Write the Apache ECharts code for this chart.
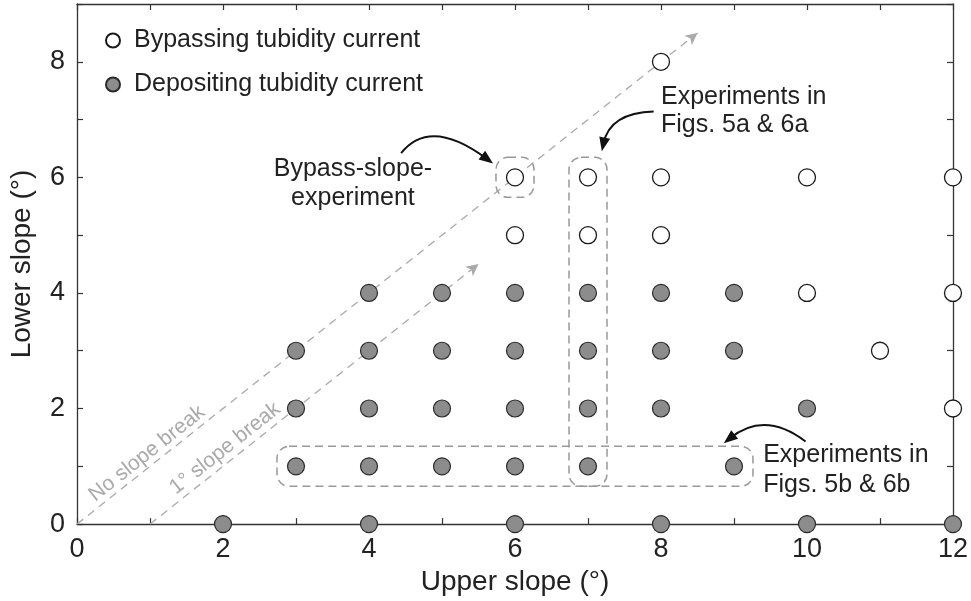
<!DOCTYPE html>
<html>
<head>
<meta charset="utf-8">
<script src="https://cdn.jsdelivr.net/npm/echarts@6/dist/echarts.min.js"></script>
<style>html,body{margin:0;padding:0;background:#fff}#c{width:971px;height:601px}</style>
</head>
<body>
<div id="c"></div>
<script>
// ---- data ----
const seriesNames = ['Bypassing tubidity current', 'Depositing tubidity current'];
const bypassing = [[8,8],[6,6],[7,6],[8,6],[10,6],[12,6],[6,5],[7,5],[8,5],[10,4],[12,4],[11,3],[12,2]];
const depositing = [
  [4,4],[5,4],[6,4],[7,4],[8,4],[9,4],
  [3,3],[4,3],[5,3],[6,3],[7,3],[8,3],[9,3],
  [3,2],[4,2],[5,2],[6,2],[7,2],[8,2],[10,2],
  [3,1],[4,1],[5,1],[6,1],[7,1],[9,1],
  [2,0],[4,0],[6,0],[8,0],[10,0],[12,0]
];
const xTicks = [0,2,4,6,8,10,12];
const yTicks = [0,2,4,6,8];
const xName = 'Upper slope (°)';
const yName = 'Lower slope (°)';
// reference lines (data coords)
const noBreakLine = [[0,0],[8.5,8.5]];
const oneDegLine = [[1,0],[5.5,4.5]];
const lineLabels = [
  {text:'No slope break', at:[0.96,1.22], along:noBreakLine},
  {text:'1° slope break', at:[2.03,1.31], along:oneDegLine}
];
// highlighted experiment groups [xmin,xmax,ymin,ymax]
const boxes = [[6,6,6,6],[7,7,1,6],[3,9,1,1]];
// annotation texts
const notes = [
  {lines:['Bypass-slope-','experiment'], at:[3.78,5.90], align:'center', lh:29},
  {lines:['Experiments in','Figs. 5a & 6a'], at:[8.0,7.14], align:'left', lh:28},
  {lines:['Experiments in','Figs. 5b & 6b'], at:[9.40,0.93], align:'left', lh:30}
];
// curved arrows: tail, control, tip (data coords)
const arrows = [
  [[4.44,6.42],[4.84,7.05],[5.70,6.24]],
  [[7.90,7.14],[7.30,7.12],[7.19,6.45]],
  [[9.98,1.43],[9.42,1.97],[8.86,1.40]]
];

const FONT = '"Liberation Sans", Arial, Helvetica, sans-serif';
const chart = echarts.init(document.getElementById('c'), null, {renderer:'canvas'});

function evenFmt(list){ return v => list.indexOf(v) >= 0 ? String(v) : ''; }
const axisLine = {show:true, onZero:false, lineStyle:{color:'#333', width:1.3}};
const tick = {show:true, inside:true, length:6, lineStyle:{color:'#333', width:1.2}};

const option = {
  animation:false,
  backgroundColor:'#fff',
  textStyle:{fontFamily:FONT},
  grid:{left:77, right:16, top:4, bottom:75, containLabel:false},
  legend:{
    orient:'vertical', left:100, top:23, itemWidth:14, itemHeight:14, itemGap:19,
    data:seriesNames,
    textStyle:{fontSize:25, color:'#222', fontFamily:FONT, padding:[0,0,0,9]}
  },
  xAxis:[{
    type:'value', min:0, max:12, interval:1, position:'bottom',
    axisLine, axisTick:tick, splitLine:{show:false},
    axisLabel:{formatter:evenFmt(xTicks), fontSize:27, color:'#222', margin:12, fontFamily:FONT},
    name:xName, nameLocation:'middle', nameGap:38,
    nameTextStyle:{fontSize:28, color:'#222', fontFamily:FONT}
  },{
    type:'value', min:0, max:12, interval:1, position:'top',
    axisLine, axisTick:tick, axisLabel:{show:false}, splitLine:{show:false}
  }],
  yAxis:[{
    type:'value', min:0, max:9, interval:1, position:'left',
    axisLine, axisTick:tick, splitLine:{show:false},
    axisLabel:{formatter:evenFmt(yTicks), fontSize:27, color:'#222', margin:12, fontFamily:FONT},
    name:yName, nameLocation:'middle', nameGap:41,
    nameTextStyle:{fontSize:28, color:'#222', fontFamily:FONT}
  },{
    type:'value', min:0, max:9, interval:1, position:'right',
    axisLine, axisTick:tick, axisLabel:{show:false}, splitLine:{show:false}
  }],
  series:[{
    name:seriesNames[0], type:'scatter', data:bypassing, symbol:'circle', symbolSize:17, clip:false, z:5,
    itemStyle:{color:'#fff', borderColor:'#1a1a1a', borderWidth:1.3, opacity:1}
  },{
    name:seriesNames[1], type:'scatter', data:depositing, symbol:'circle', symbolSize:17, clip:false, z:5,
    itemStyle:{color:'#8c8c8c', borderColor:'#2a2a2a', borderWidth:1.2, opacity:1},
    markLine:{
      silent:true, symbol:['none','arrow'], symbolSize:[9,12], z:1,
      label:{show:false},
      lineStyle:{color:'#aaaaaa', width:1.3, type:[8,6]},
      emphasis:{disabled:true},
      data:[
        [{coord:noBreakLine[0]},{coord:noBreakLine[1]}],
        [{coord:oneDegLine[0]},{coord:oneDegLine[1]}]
      ]
    }
  }]
};
chart.setOption(option);

const P = p => chart.convertToPixel({gridIndex:0}, p);
const g = [];
// dashed rounded boxes
const padX = 19, padY = 20;
boxes.forEach(b => {
  const a = P([b[0], b[3]]), c = P([b[1], b[2]]);
  g.push({type:'rect', z:3, silent:true,
    shape:{x:a[0]-padX, y:a[1]-padY, width:(c[0]-a[0])+2*padX, height:(c[1]-a[1])+2*padY, r:12},
    style:{fill:'none', stroke:'#999', lineWidth:1.5, lineDash:[8,5]}});
});
// rotated labels along the reference lines
lineLabels.forEach(l => {
  const p0 = P(l.along[0]), p1 = P(l.along[1]);
  const ang = Math.atan2(-(p1[1]-p0[1]), p1[0]-p0[0]);
  const c = P(l.at);
  g.push({type:'text', z:3, silent:true, x:c[0], y:c[1], rotation:ang,
    style:{text:l.text, fill:'#aaaaaa', font:'21px ' + FONT, align:'center', verticalAlign:'middle'}});
});
// annotation texts
notes.forEach(n => {
  const c = P(n.at);
  g.push({type:'text', z:6, silent:true, x:c[0], y:c[1],
    style:{text:n.lines.join('\n'), fill:'#222', font:'25px ' + FONT, lineHeight:n.lh, align:n.align, verticalAlign:'middle'}});
});
// curved arrows
arrows.forEach(a => {
  const t = P(a[0]), k = P(a[1]), h = P(a[2]);
  let dx = h[0]-k[0], dy = h[1]-k[1];
  const L = Math.hypot(dx, dy); dx /= L; dy /= L;
  const len = 14, w = 5.5;
  const bx = h[0]-dx*len, by = h[1]-dy*len;
  g.push({type:'bezierCurve', z:6, silent:true,
    shape:{x1:t[0], y1:t[1], cpx1:k[0], cpy1:k[1], x2:h[0]-dx*8, y2:h[1]-dy*8},
    style:{stroke:'#111', lineWidth:2, fill:null}});
  g.push({type:'polygon', z:6, silent:true,
    shape:{points:[[h[0],h[1]],[bx - dy*w, by + dx*w],[bx + dy*w, by - dx*w]]},
    style:{fill:'#111'}});
});
chart.setOption({graphic:g});
</script>
</body>
</html>
